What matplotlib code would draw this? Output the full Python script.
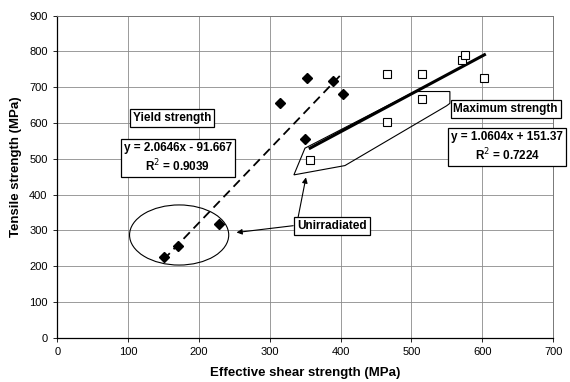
import numpy as np
import matplotlib.pyplot as plt
from matplotlib.patches import Ellipse, Polygon

plt.rcParams['font.family'] = ['Liberation Sans', 'DejaVu Sans']

# ── Data ─────────────────────────────────────────────────────────────────────
yield_x = [150, 170, 228, 315, 350, 353, 389, 403]
yield_y = [225, 257, 318, 655, 554, 727, 717, 681]

max_x = [357, 465, 465, 515, 515, 571, 576, 603]
max_y = [496, 603, 738, 667, 736, 776, 789, 727]

yield_fit = (2.0646, -91.667, 0.9039)
max_fit = (1.0604, 151.37, 0.7224)

x_ticks = [0, 100, 200, 300, 400, 500, 600, 700]
y_ticks = [0, 100, 200, 300, 400, 500, 600, 700, 800, 900]

fig = plt.figure(figsize=(5.7, 3.82), dpi=100)
ax = fig.add_axes([0.1005, 0.116, 0.870, 0.843])
ax.set_xlim(0, 700)
ax.set_ylim(0, 900)
ax.set_xticks(x_ticks)
ax.set_yticks(y_ticks)
ax.grid(True, color="#8a8a8a", lw=0.6)
ax.set_axisbelow(True)
ax.tick_params(labelsize=8, length=3, width=0.6, pad=4)
for side in ("left", "bottom"):
    ax.spines[side].set_color("black")
    ax.spines[side].set_linewidth(0.9)
for side in ("top", "right"):
    ax.spines[side].set_color("#777")
    ax.spines[side].set_linewidth(0.7)

ax.set_xlabel("Effective shear strength (MPa)", fontsize=9.5,
              fontweight="bold", labelpad=7)
ax.set_ylabel("Tensile strength (MPa)", fontsize=9.5, fontweight="bold")
ax.yaxis.set_label_coords(-0.072, 0.53)

# ── Points ───────────────────────────────────────────────────────────────────
ax.plot(yield_x, yield_y, "D", color="black", ms=5.2, zorder=4, clip_on=False)
ax.plot(max_x, max_y, "s", mfc="white", mec="black", mew=0.8, ms=6,
        zorder=4, clip_on=False)

# ── Trend lines ──────────────────────────────────────────────────────────────
xs = np.array([min(yield_x), max(yield_x)])
ax.plot(xs, yield_fit[0] * xs + yield_fit[1], color="black", lw=1.3,
        linestyle=(0, (5, 3)), zorder=3)
xs = np.array([min(max_x), max(max_x)])
ax.plot(xs, max_fit[0] * xs + max_fit[1], color="black", lw=2.2, zorder=3)

# ── Annotations ──────────────────────────────────────────────────────────────
box = dict(boxstyle="square,pad=0.25", fc="white", ec="black", lw=0.9)
tkw = dict(ha="center", va="center", fontsize=8.5, fontweight="bold",
           bbox=box, zorder=6)

ax.text(162, 613, "Yield strength", **tkw)
ax.text(170, 502, "y = %.4fx - %.3f\nR$^2$ = %.4f"
        % (yield_fit[0], -yield_fit[1], yield_fit[2]),
        linespacing=1.25, **tkw)
ax.text(635, 533, "y = %.4fx + %.2f\nR$^2$ = %.4f" % max_fit,
        linespacing=1.25, **tkw)

# callout for maximum strength
callout = Polygon([(349.6, 529.6), (504.8, 688), (554.2, 688), (554.2, 655),
                   (549.5, 648), (406, 481), (334, 455)],
                  closed=True, fill=False, ec="black", lw=0.8, zorder=2)
ax.add_patch(callout)
ax.text(633, 639, "Maximum strength", **tkw)

# unirradiated marks
ax.add_patch(Ellipse((172, 287), 140, 168, fill=False, ec="black", lw=0.8,
                     zorder=2))
ax.text(388, 313, "Unirradiated", **tkw)
arr = dict(arrowstyle="-|>", color="black", lw=0.8, mutation_scale=8,
           shrinkA=0, shrinkB=0)
ax.annotate("", xy=(253, 294), xytext=(333, 313), arrowprops=arr, zorder=5)
ax.annotate("", xy=(351, 448), xytext=(340, 337), arrowprops=arr, zorder=5)

fig.savefig("out.png", dpi=100)
